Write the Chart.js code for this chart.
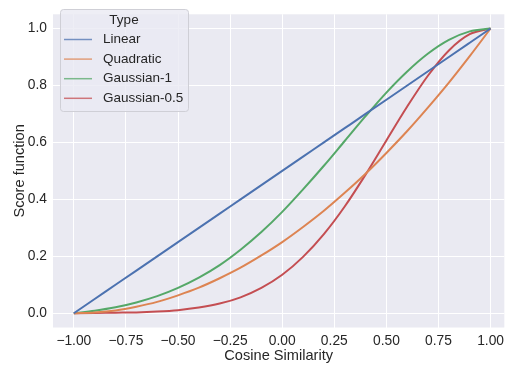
<!DOCTYPE html>
<html>
<head>
<meta charset="utf-8">
<script src="https://cdn.jsdelivr.net/npm/chart.js@4"></script>
<style>
  html, body { margin: 0; padding: 0; background: #fff; }
  #wrap { width: 509px; height: 367px; }
</style>
</head>
<body>
<div id="wrap"><canvas id="scoreChart" width="509" height="367"></canvas></div>
<script>
const cosineX = [-1.0, -0.9, -0.8, -0.7, -0.6, -0.5, -0.4, -0.3, -0.2, -0.1, 0.0,
                 0.1, 0.2, 0.3, 0.4, 0.5, 0.6, 0.7, 0.8, 0.9, 1.0];
const linearY = [0.0, 0.05, 0.10, 0.15, 0.20, 0.25, 0.30, 0.35, 0.40, 0.45, 0.50,
                 0.55, 0.60, 0.65, 0.70, 0.75, 0.80, 0.85, 0.90, 0.95, 1.0];
const quadraticY = [0.0, 0.003, 0.010, 0.023, 0.040, 0.063, 0.090, 0.123, 0.160, 0.203, 0.250,
                    0.303, 0.360, 0.423, 0.490, 0.563, 0.640, 0.723, 0.810, 0.903, 1.0];
const gauss1Y = [0.0, 0.009, 0.021, 0.038, 0.060, 0.089, 0.125, 0.169, 0.223, 0.285, 0.356,
                 0.435, 0.518, 0.605, 0.692, 0.775, 0.849, 0.912, 0.960, 0.990, 1.0];
const gauss05Y = [0.0, 0.001, 0.002, 0.003, 0.006, 0.011, 0.020, 0.034, 0.056, 0.089, 0.135,
                  0.198, 0.278, 0.375, 0.487, 0.607, 0.726, 0.835, 0.923, 0.980, 1.0];
const seriesNames = ['Linear', 'Quadratic', 'Gaussian-1', 'Gaussian-0.5'];
const seriesColors = ['#4C72B0', '#DD8452', '#55A868', '#C44E52'];
const xTicks = [-1.0, -0.75, -0.5, -0.25, 0.0, 0.25, 0.5, 0.75, 1.0];
const yTicks = [0.0, 0.2, 0.4, 0.6, 0.8, 1.0];

const FONT = '"Liberation Sans", Arial, sans-serif';
const TEXT = '#262626';

function pts(ys) {
  return cosineX.map((x, i) => ({ x: x, y: ys[i] }));
}
function fmt(v, d) {
  const s = Math.abs(v).toFixed(d);
  return v < -1e-9 ? '\u2212' + s : s;
}

const allY = [linearY, quadraticY, gauss1Y, gauss05Y];

// seaborn darkgrid background
const plotBg = {
  id: 'plotBg',
  beforeDraw(chart) {
    const a = chart.chartArea, c = chart.ctx;
    c.save();
    c.fillStyle = '#EAEAF2';
    c.fillRect(a.left, a.top, a.right - a.left, a.bottom - a.top);
    c.restore();
  }
};

// matplotlib-style legend box in the upper left
const boxLegend = {
  id: 'boxLegend',
  afterDraw(chart) {
    const c = chart.ctx;
    const x = 60, y = 9, w = 128, h = 102, r = 3;
    c.save();
    c.beginPath();
    c.roundRect(x + 0.5, y + 0.5, w, h, r);
    c.fillStyle = 'rgba(234,234,242,0.8)';
    c.fill();
    c.strokeStyle = '#CFCFD6';
    c.lineWidth = 1;
    c.stroke();
    c.fillStyle = TEXT;
    c.font = '13.5px ' + FONT;
    c.textBaseline = 'middle';
    c.textAlign = 'center';
    c.fillText('Type', 124, 20);
    c.textAlign = 'left';
    chart.data.datasets.forEach((ds, i) => {
      const ly = 39.5 + i * 19.6;
      c.strokeStyle = ds.borderColor;
      c.globalAlpha = 0.75;
      c.lineWidth = 1.5;
      c.beginPath();
      c.moveTo(64, ly);
      c.lineTo(92, ly);
      c.stroke();
      c.globalAlpha = 1;
      c.fillText(ds.label, 103, ly);
    });
    c.restore();
  }
};

const ctx = document.getElementById('scoreChart').getContext('2d');
const scoreChart = new Chart(ctx, {
  type: 'line',
  data: {
    datasets: seriesNames.map((name, i) => ({
      label: name,
      data: pts(allY[i]),
      borderColor: seriesColors[i],
      backgroundColor: seriesColors[i],
      borderWidth: 2,
      pointRadius: 0,
      fill: false,
      cubicInterpolationMode: 'monotone'
    }))
  },
  options: {
    responsive: false,
    animation: false,
    layout: { padding: { top: 2, right: 0, left: 0, bottom: 0 } },
    plugins: {
      legend: { display: false },
      tooltip: { enabled: false }
    },
    scales: {
      x: {
        type: 'linear',
        min: -1.1,
        max: 1.066,
        afterBuildTicks: s => { s.ticks = xTicks.map(v => ({ value: v })); },
        afterFit: s => { s.height = 39.5; },
        grid: { color: '#FFFFFF', lineWidth: 1, drawTicks: false },
        border: { display: false },
        ticks: {
          padding: 5,
          color: TEXT,
          font: { family: FONT, size: 13.8 },
          maxRotation: 0,
          callback: v => fmt(v, 2)
        },
        title: {
          display: true,
          text: 'Cosine Similarity',
          color: TEXT,
          font: { family: FONT, size: 14.6 },
          padding: { top: 0, bottom: 2 }
        }
      },
      y: {
        type: 'linear',
        min: -0.05,
        max: 1.05,
        afterBuildTicks: s => { s.ticks = yTicks.map(v => ({ value: v })); },
        afterFit: s => { s.width = 53; },
        grid: { color: '#FFFFFF', lineWidth: 1, drawTicks: false },
        border: { display: false },
        ticks: {
          padding: 6,
          color: TEXT,
          font: { family: FONT, size: 13.8 },
          callback: v => fmt(v, 1)
        },
        title: {
          display: true,
          text: 'Score function',
          color: TEXT,
          font: { family: FONT, size: 14.6 },
          padding: { top: 11, bottom: 0 }
        }
      }
    }
  },
  plugins: [plotBg, boxLegend]
});
</script>
</body>
</html>
